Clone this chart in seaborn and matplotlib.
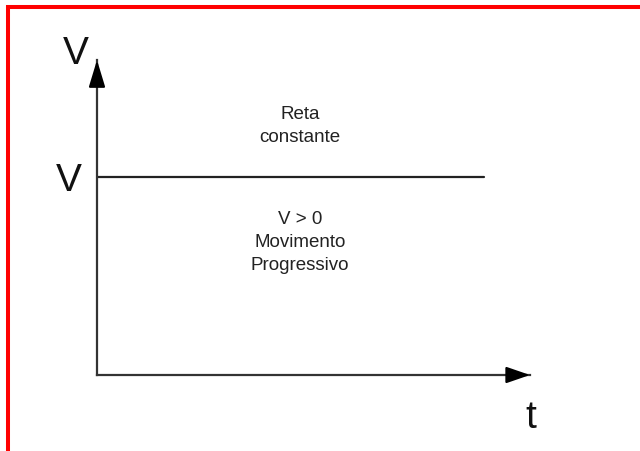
import matplotlib
matplotlib.use('Agg')
import numpy as np
import pandas as pd
import matplotlib.pyplot as plt
import seaborn as sns
from matplotlib.lines import Line2D

# dados do gráfico V x t (movimento uniforme, velocidade constante)
tempo = [0.0, 10.0]
velocidade = [1.0, 1.0]
t_max = 11.19
v_max = 1.59
rotulo_v = 'V'
rotulo_t = 't'
texto_reta = 'Reta\nconstante'
texto_mov = 'V > 0\nMovimento\nProgressivo'

sns.set_theme(style='white')
plt.rcParams['font.family'] = ['Liberation Sans', 'DejaVu Sans']

fig = plt.figure(figsize=(6.4, 4.51), dpi=100)
ax = fig.add_axes([97 / 640, 76 / 451, 433 / 640, 315 / 451])

df = pd.DataFrame({'t': tempo, 'v': velocidade})
sns.lineplot(data=df, x='t', y='v', color='#222222', linewidth=1.6, ax=ax)

ax.set_xlim(0, t_max)
ax.set_ylim(0, v_max)

# eixos com setas
for s in ['top', 'right']:
    ax.spines[s].set_visible(False)
for s in ['left', 'bottom']:
    ax.spines[s].set_color('#333333')
    ax.spines[s].set_linewidth(1.6)
ax.annotate('', xy=(1, 0), xytext=(0.95, 0), xycoords='axes fraction',
            arrowprops=dict(arrowstyle='-|>,head_length=1.45,head_width=0.5',
                            mutation_scale=10, color='black', lw=1.6,
                            shrinkA=0, shrinkB=0))
ax.annotate('', xy=(0, 1), xytext=(0, 0.93), xycoords='axes fraction',
            arrowprops=dict(arrowstyle='-|>,head_length=1.65,head_width=0.5',
                            mutation_scale=10, color='black', lw=1.6,
                            shrinkA=0, shrinkB=0))

ax.set_xticks([])
ax.set_yticks([velocidade[0]])
ax.set_yticklabels([rotulo_v], fontsize=28, color='#111111')
ax.tick_params(axis='y', length=0, pad=11)

ax.set_xlabel(rotulo_t, fontsize=28, color='#111111', va='center')
ax.xaxis.set_label_coords(1.002, -0.137)
ax.set_ylabel(rotulo_v, fontsize=28, rotation=0, color='#111111', ha='center', va='center')
ax.yaxis.set_label_coords(-0.0485, 1.02)

ax.text(0.469, 0.79, texto_reta, transform=ax.transAxes, ha='center', va='center',
        fontsize=13.5, color='#222222', linespacing=1.45)
ax.text(0.469, 0.42, texto_mov, transform=ax.transAxes, ha='center', va='center',
        fontsize=13.5, color='#222222', linespacing=1.45)

ax.grid(False)

# moldura vermelha (topo e esquerda)
fig.add_artist(Line2D([6 / 640, 1], [1 - 7 / 451, 1 - 7 / 451], color='#ff0000', linewidth=2.9,
                      solid_capstyle='butt'))
fig.add_artist(Line2D([8 / 640, 8 / 640], [0, 1 - 5 / 451], color='#ff0000', linewidth=2.9,
                      solid_capstyle='butt'))

fig.savefig('out.png', dpi=100)
